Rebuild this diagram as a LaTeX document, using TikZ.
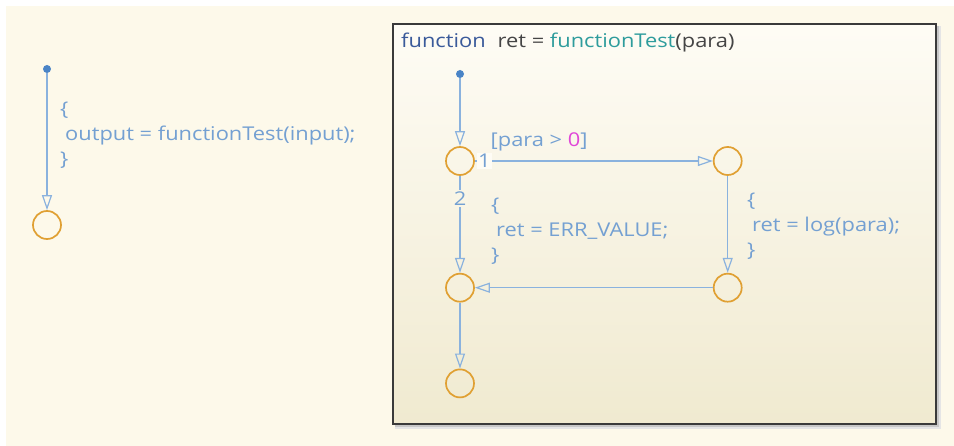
\documentclass[tikz,border=0pt]{standalone}
\usepackage{fontspec}
\setmainfont{Open Sans}[FakeStretch=1.15]
\usetikzlibrary{arrows.meta,positioning}

\definecolor{bgcream}{HTML}{FDF9EA}
\definecolor{boxtop}{HTML}{FEFCF5}
\definecolor{boxbot}{HTML}{F0EAD0}
\definecolor{boxmid}{HTML}{F9F5E5}
\definecolor{boxgray}{HTML}{3A3A3A}
\definecolor{stateorange}{HTML}{E0A033}
\definecolor{trblue}{HTML}{8AB2DE}
\definecolor{lblblue}{HTML}{74A0D2}
\definecolor{dotblue}{HTML}{4A84C6}
\definecolor{kwblue}{HTML}{3A5A9A}
\definecolor{fnteal}{HTML}{2E9C9C}
\definecolor{txtgray}{HTML}{454545}
\definecolor{numpink}{HTML}{E046D8}

\begin{document}
\begin{tikzpicture}[x=1pt, y=-1pt, node distance=238pt,
    state/.style={circle, draw=stateorange, line width=1.7pt, minimum size=28pt, inner sep=0pt},
    tr/.style={draw=trblue, line width=1.2pt, -{Triangle[open, length=15pt, width=10pt]}},
    lbl/.style={text=lblblue, font=\fontsize{19}{25}\selectfont, align=left, inner sep=0pt},
    initdot/.style={circle, fill=dotblue, minimum size=8pt, inner sep=0pt}]
    % canvas
    \fill[white] (0,0) rectangle (954,446);
    \fill[bgcream] (6,6) rectangle (954,446);
    \useasboundingbox (0,0) rectangle (954,446);

    % caller chart
    \node [initdot] (init0) at (47,69) {};
    \node [state] (out) at (47,225) {};
    \draw [tr] (init0) -- (out);
    \node [lbl, anchor=west] (call) at (60,135) {\{\\ \hspace{5pt}output = functionTest(input);\\\}};

    % graphical function box
    \fill[black!10] (395,26) rectangle (941,429);
    \fill[black!22] (395,26) rectangle (939,427);
    \shade[top color=boxtop, bottom color=boxbot] (393,24) rectangle (936,424);
    \draw[boxgray, line width=2.6pt] (393,24) rectangle (936,424);
    \node [anchor=base west, inner sep=0pt, font=\fontsize{19}{20}\selectfont] (title) at (401,48)
        {\textcolor{kwblue}{function}\hspace{12pt}\textcolor{txtgray}{ret =} \textcolor{fnteal}{functionTest}\textcolor{txtgray}{(para)}};

    \node [initdot] (init1) at (460,74) {};
    \node [state] (start) at (460,161) {};
    \node [state, right=of start] (pos) {};
    \node [state, below=97pt of start] (join) {};
    \node [state] (calc) at (pos |- join) {};
    \node [state, below=66pt of join] (fin) {};

    \draw [tr] (init1) -- (start);
    \draw [tr] (start) -- node[pos=0.04, lbl, fill=boxtop, inner sep=1pt] {1}
        node[pos=0.27, lbl, above=9pt] {[para > \textcolor{numpink}{0}]} (pos);
    \draw [tr] (start) -- node[pos=0.23, lbl, fill=boxmid, inner sep=1.5pt] {2} (join);
    \draw [tr] (pos) -- (calc);
    \draw [tr] (calc) -- (join);
    \draw [tr] (join) -- (fin);

    \node [lbl, anchor=west] (errval) at (491,231) {\{\\ \hspace{5pt}ret = ERR\_VALUE;\\\}};
    \node [lbl, anchor=west] (logval) at (747,226) {\{\\ \hspace{5pt}ret = log(para);\\\}};
\end{tikzpicture}
\end{document}
